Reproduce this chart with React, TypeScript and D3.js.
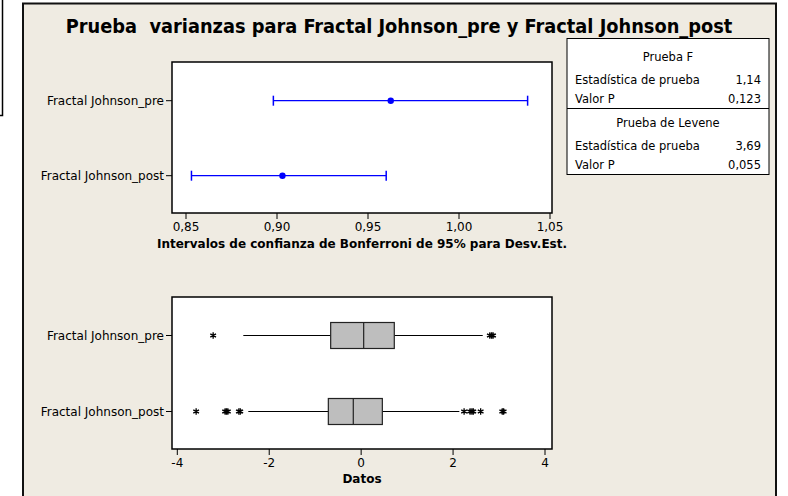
import * as d3 from 'd3';

const groups = ['Fractal Johnson_pre', 'Fractal Johnson_post'];

// intervalos de Bonferroni (desv. est.)
const ciLower = [0.898, 0.853];
const ciSigma = [0.9625, 0.903];
const ciUpper = [1.0377, 0.96];
const ciTicks = [0.85, 0.9, 0.95, 1.0, 1.05];

// resumen de caja
const q1 = [-0.663, -0.714];
const medians = [0.055, -0.171];
const q3 = [0.721, 0.461];
const whiskLo = [-2.564, -2.455];
const whiskHi = [2.645, 2.136];
const outliers = [
  [-3.22, 2.8, 2.84, 2.87],
  [-3.59, -2.96, -2.93, -2.9, -2.66, -2.63, 2.24, 2.37, 2.41, 2.44, 2.6, 3.07, 3.1],
];
const dataTicks = [-4, -2, 0, 2, 4];

const statRows = [
  { head: 'Prueba F', rows: [['Estadística de prueba', '1,14'], ['Valor P', '0,123']] },
  { head: 'Prueba de Levene', rows: [['Estadística de prueba', '3,69'], ['Valor P', '0,055']] },
];

const W = 788;
const H = 496;
const FONT = "'DejaVu Sans', sans-serif";
const FONT_TITLE = "'DejaVu Sans Condensed', 'DejaVu Sans', sans-serif";
const fmt = (v: number) => v.toFixed(2).replace('.', ',');

export default function App() {
  // panel superior
  const top = { x0: 172, x1: 552, y0: 62, y1: 213 };
  const xCI = d3.scaleLinear().domain([0.85, 1.05]).range([186, 550]);
  const yCI = d3.scalePoint<string>().domain(groups).range([100.7, 175.7]);

  // panel inferior
  const bot = { x0: 172, x1: 552, y0: 297, y1: 449 };
  const xD = d3.scaleLinear().domain([-4, 4]).range([177.3, 545]);
  const yD = d3.scalePoint<string>().domain(groups).range([335.5, 411.5]);
  const boxH = 26;

  const star = d3.symbol().type(d3.symbolAsterisk).size(30)() as string;

  return (
    <svg width={W} height={H} style={{ position: 'absolute', left: 0, top: 0, display: 'block' }} fontFamily={FONT}>
      <rect x={0} y={0} width={W} height={H} fill="#fff" />
      {/* borde de otra ventana */}
      <path d="M2.5,0V115.5H0" fill="none" stroke="#000" strokeWidth={1.5} />
      <rect x={23} y={3.5} width={753} height={H} fill="#EFEBE2" stroke="#111" strokeWidth={2} />

      <text x={399} y={33} textAnchor="middle" fontSize={19.8} fontWeight="bold" fill="#000" fontFamily={FONT_TITLE} xmlSpace="preserve">
        Prueba  varianzas para Fractal Johnson_pre y Fractal Johnson_post
      </text>

      {/* tabla */}
      <rect x={567} y={38.5} width={202} height={136} fill="#fff" stroke="#000" strokeWidth={1} />
      <line x1={567} x2={769} y1={108.5} y2={108.5} stroke="#000" />
      {statRows.map((s, i) => {
        const base = i === 0 ? 61 : 127;
        return (
          <g key={s.head} fontSize={11.5} fill="#000">
            <text x={668} y={base} textAnchor="middle">{s.head}</text>
            {s.rows.map((r, j) => (
              <g key={r[0]}>
                <text x={575} y={base + 23 + j * 19}>{r[0]}</text>
                <text x={761} y={base + 23 + j * 19} textAnchor="end">{r[1]}</text>
              </g>
            ))}
          </g>
        );
      })}

      {/* intervalos */}
      <rect x={top.x0} y={top.y0} width={top.x1 - top.x0} height={top.y1 - top.y0} fill="#fff" stroke="#000" strokeWidth={1.5} />
      {groups.map((g, i) => {
        const y = yCI(g)!;
        return (
          <g key={g}>
            <line x1={top.x0 - 6} x2={top.x0} y1={y} y2={y} stroke="#000" />
            <text x={top.x0 - 8} y={y + 4} textAnchor="end" fontSize={12}>{g}</text>
            <line x1={xCI(ciLower[i])} x2={xCI(ciUpper[i])} y1={y} y2={y} stroke="#0000FF" strokeWidth={1.2} />
            <line x1={xCI(ciLower[i])} x2={xCI(ciLower[i])} y1={y - 5} y2={y + 5} stroke="#0000FF" strokeWidth={1.5} />
            <line x1={xCI(ciUpper[i])} x2={xCI(ciUpper[i])} y1={y - 5} y2={y + 5} stroke="#0000FF" strokeWidth={1.5} />
            <circle cx={xCI(ciSigma[i])} cy={y} r={3.2} fill="#0000FF" />
          </g>
        );
      })}
      {ciTicks.map((t) => (
        <g key={t}>
          <line x1={xCI(t)} x2={xCI(t)} y1={top.y1} y2={top.y1 + 6} stroke="#000" />
          <text x={xCI(t)} y={231} textAnchor="middle" fontSize={12}>{fmt(t)}</text>
        </g>
      ))}
      <text x={362} y={248} textAnchor="middle" fontSize={12} fontWeight="bold">
        Intervalos de confianza de Bonferroni de 95% para Desv.Est.
      </text>

      {/* cajas */}
      <rect x={bot.x0} y={bot.y0} width={bot.x1 - bot.x0} height={bot.y1 - bot.y0} fill="#fff" stroke="#000" strokeWidth={1.5} />
      {groups.map((g, i) => {
        const y = yD(g)!;
        return (
          <g key={g}>
            <line x1={bot.x0 - 6} x2={bot.x0} y1={y} y2={y} stroke="#000" />
            <text x={bot.x0 - 8} y={y + 4} textAnchor="end" fontSize={12}>{g}</text>
            <line x1={xD(whiskLo[i])} x2={xD(q1[i])} y1={y} y2={y} stroke="#000" strokeWidth={1.2} />
            <line x1={xD(q3[i])} x2={xD(whiskHi[i])} y1={y} y2={y} stroke="#000" strokeWidth={1.2} />
            <rect x={xD(q1[i])} y={y - boxH / 2} width={xD(q3[i]) - xD(q1[i])} height={boxH} fill="#BEBEBE" stroke="#222" strokeWidth={1.2} />
            <line x1={xD(medians[i])} x2={xD(medians[i])} y1={y - boxH / 2} y2={y + boxH / 2} stroke="#222" strokeWidth={1.2} />
            {outliers[i].map((o, k) => (
              <path key={k} d={star} transform={`translate(${xD(o)},${y})`} fill="none" stroke="#000" strokeWidth={1.3} />
            ))}
          </g>
        );
      })}
      {dataTicks.map((t) => (
        <g key={t}>
          <line x1={xD(t)} x2={xD(t)} y1={bot.y1} y2={bot.y1 + 6} stroke="#000" />
          <text x={xD(t)} y={467} textAnchor="middle" fontSize={12}>{t}</text>
        </g>
      ))}
      <text x={362} y={483} textAnchor="middle" fontSize={12} fontWeight="bold">Datos</text>
    </svg>
  );
}
